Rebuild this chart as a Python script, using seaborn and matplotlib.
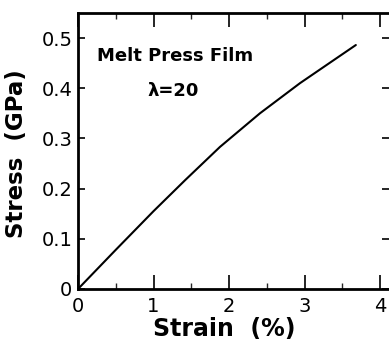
import numpy as np
import pandas as pd
import matplotlib
matplotlib.use("Agg")
import matplotlib.pyplot as plt
import seaborn as sns
from matplotlib.ticker import MultipleLocator

sns.set_theme(style="ticks")
plt.rcParams['font.family'] = ['DejaVu Sans']
plt.rcParams['text.color'] = 'black'
plt.rcParams['axes.labelcolor'] = 'black'

# Stress-strain curve
strain = [0.0, 0.5, 1.0, 1.42, 1.88, 2.41, 2.94, 3.30, 3.68]
stress = [0.0, 0.078, 0.155, 0.217, 0.283, 0.350, 0.410, 0.447, 0.486]

x_ticks = [0, 1, 2, 3, 4]
y_ticks = [0, 0.1, 0.2, 0.3, 0.4, 0.5]
y_tick_labels = ["0", "0.1", "0.2", "0.3", "0.4", "0.5"]

df = pd.DataFrame({"strain": strain, "stress": stress})

fig = plt.figure(figsize=(3.89, 3.42), dpi=100)
ax = fig.add_axes([78 / 389, 1 - 289 / 342, (389 - 78) / 389, (289 - 13) / 342])

sns.lineplot(data=df, x="strain", y="stress", color="black", linewidth=1.5, ax=ax)

ax.set_xlim(0, (389 - 78) / 75.5)
ax.set_ylim(0, (289 - 13) / 502)

ax.set_xticks(x_ticks)
ax.set_xticklabels([str(t) for t in x_ticks])
ax.set_yticks(y_ticks)
ax.set_yticklabels(y_tick_labels)
ax.xaxis.set_minor_locator(MultipleLocator(0.5))

ax.tick_params(axis="both", which="major", direction="in", labelsize=14,
               top=True, right=True, colors="black", labelcolor="black", width=1.2)
ax.tick_params(axis="x", which="major", length=10, pad=6)
ax.tick_params(axis="y", which="major", length=5, pad=4)
ax.tick_params(axis="x", which="minor", direction="in", length=4, top=True, width=1.0)

ax.spines["right"].set_visible(False)
ax.spines["left"].set_linewidth(2)
ax.spines["bottom"].set_linewidth(2)
ax.spines["top"].set_linewidth(2)
for s in ax.spines.values():
    s.set_color("black")

ax.set_xlabel("Strain  (%)", fontsize=17, fontweight="bold")
ax.set_ylabel("Stress  (GPa)", fontsize=16.5, fontweight="bold")
ax.xaxis.set_label_coords(0.47, -0.1)
ax.yaxis.set_label_coords(-0.16, 0.49)

ax.text(0.25, 0.455, "Melt Press Film", fontsize=13, fontweight="bold")
ax.text(0.92, 0.385, "λ=20", fontsize=13, fontweight="bold")

fig.savefig("out.png", dpi=100)
